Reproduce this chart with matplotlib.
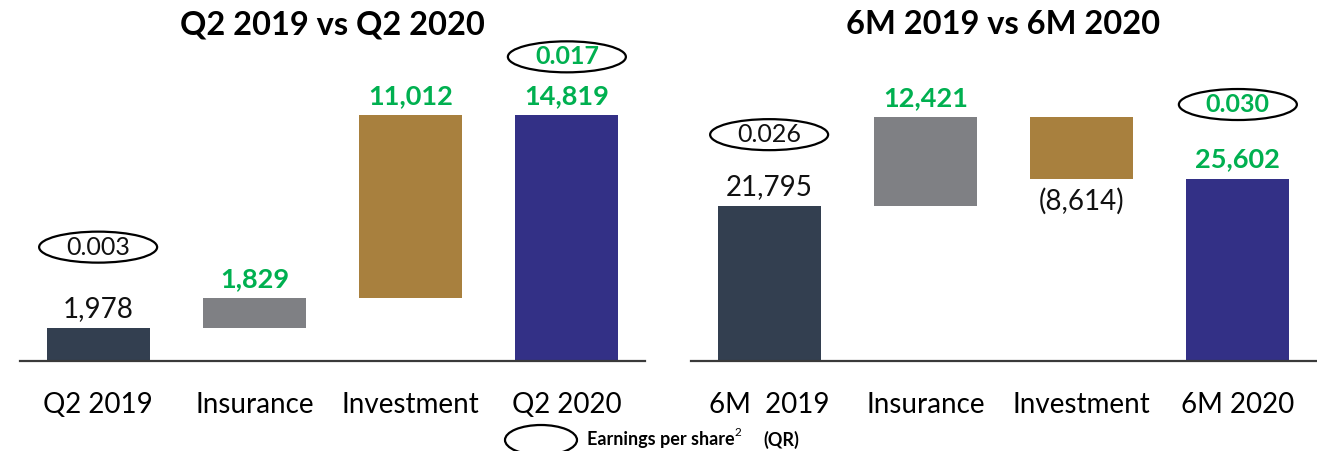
import matplotlib
matplotlib.use("Agg")
import matplotlib.pyplot as plt
from matplotlib.patches import Ellipse
from matplotlib import transforms

plt.rcParams['font.family'] = ['Lato', 'DejaVu Sans']

# ---- data -------------------------------------------------------------
q_title = "Q2 2019 vs Q2 2020"
q_categories = ["Q2 2019", "Insurance", "Investment", "Q2 2020"]
q_values = [1978, 1829, 11012, 14819]          # start, change, change, end
q_eps = [0.003, 0.017]                          # start, end

h_title = "6M 2019 vs 6M 2020"
h_categories = ["6M  2019", "Insurance", "Investment", "6M 2020"]
h_values = [21795, 12421, -8614, 25602]
h_eps = [0.026, 0.030]

legend_text = "Earnings per share"
legend_unit = "(QR)"

# ---- style ------------------------------------------------------------
GREEN = "#00B050"
C_START = "#333F50"
C_INS = "#7F8084"
C_INV = "#A8803E"
C_END = "#333086"
BAR_COLORS = [C_START, C_INS, C_INV, C_END]

W, H, DPI = 1317, 451, 100
fig = plt.figure(figsize=(W / DPI, H / DPI), dpi=DPI)


def px_axes(x0, x1, y_base, height):
    return fig.add_axes([x0 / W, (H - y_base) / H, (x1 - x0) / W, height / H])


def fmt(v):
    return f"({abs(v):,})" if v < 0 else f"{v:,}"


def ellipse_at(ax, x, y, lift_px, text, color, weight):
    # ellipse sized in inches, anchored to a data point and lifted in pixels
    tr = fig.dpi_scale_trans + transforms.ScaledTranslation(x, y, ax.transData)
    e = Ellipse((0, lift_px / DPI), width=1.18, height=0.31, transform=tr,
                facecolor="white", edgecolor="black", lw=1.6, clip_on=False,
                zorder=5)
    ax.add_artist(e)
    ax.annotate(f"{text:.3f}", xy=(x, y), xytext=(0, lift_px * 72 / DPI),
                textcoords="offset points", ha="center", va="center",
                fontsize=18, color=color, fontweight=weight, zorder=6,
                annotation_clip=False)


def waterfall(ax, title, cats, vals, eps, ymax, eps_lift):
    start, ch1, ch2, end = vals
    bottoms = [0, start, start + ch1 if ch2 >= 0 else start + ch1 + ch2, 0]
    heights = [start, ch1, abs(ch2), end]
    xs = range(len(cats))
    ax.bar(xs, heights, bottom=bottoms, width=0.66, color=BAR_COLORS,
           linewidth=0, zorder=2)
    ax.set_xlim(-0.5, 3.5)
    ax.set_ylim(0, ymax)
    for s in ("top", "right", "left"):
        ax.spines[s].set_visible(False)
    ax.spines["bottom"].set_color("#3a3a3a")
    ax.spines["bottom"].set_linewidth(1.6)
    ax.set_yticks([])
    ax.set_xticks(list(xs))
    ax.set_xticklabels(cats, fontsize=20)
    ax.tick_params(axis="x", length=0, pad=22)

    lift = 19 * 72 / DPI
    # start value
    ax.annotate(fmt(start), xy=(0, start), xytext=(0, lift),
                textcoords="offset points", ha="center", va="center",
                fontsize=20, color="#111111")
    # changes
    for i, v in ((1, ch1), (2, ch2)):
        top = bottoms[i] + heights[i]
        if v >= 0:
            ax.annotate(fmt(v), xy=(i, top), xytext=(0, lift),
                        textcoords="offset points", ha="center", va="center",
                        fontsize=19.5, color=GREEN, fontweight="bold")
        else:
            ax.annotate(fmt(v), xy=(i, bottoms[i]),
                        xytext=(0, -23 * 72 / DPI),
                        textcoords="offset points", ha="center", va="center",
                        fontsize=20, color="#111111")
    # end value
    ax.annotate(fmt(end), xy=(3, end), xytext=(0, lift),
                textcoords="offset points", ha="center", va="center",
                fontsize=19.5, color=GREEN, fontweight="bold")
    # earnings per share badges
    ellipse_at(ax, 0, start, eps_lift[0], eps[0], "#111111", "normal")
    ellipse_at(ax, 3, end, eps_lift[1], eps[1], GREEN, "bold")

    ax.set_title(title, fontsize=23.5, fontweight="bold", pad=20)


ax1 = px_axes(20, 645, 361, 299)
waterfall(ax1, q_title, q_categories, q_values, q_eps, 18000, (81, 58))

ax2 = px_axes(691, 1316, 361, 299)
waterfall(ax2, h_title, h_categories, h_values, h_eps, 41950, (71, 74))

# legend for the badges
fig.add_artist(Ellipse((541 / W, (H - 440) / H), width=72 / W, height=30 / H,
                       transform=fig.transFigure, facecolor="white",
                       edgecolor="black", lw=1.6))
t1 = fig.text(587 / W, (H - 440) / H, legend_text, fontsize=13,
              fontweight="bold", ha="left", va="center")
sup = fig.text(0, 0, "2", fontsize=8.5, va="bottom", ha="left")
sup.remove()
plt.annotate("2", xy=(1, 0.62), xycoords=t1, xytext=(0, 0),
             textcoords="offset points", fontsize=8.5, va="bottom",
             ha="left")
plt.annotate(legend_unit, xy=(1, 0.5), xycoords=t1, xytext=(21, 0),
             textcoords="offset points", fontsize=13, fontweight="bold",
             va="center", ha="left")

fig.savefig("out.png", dpi=DPI)
